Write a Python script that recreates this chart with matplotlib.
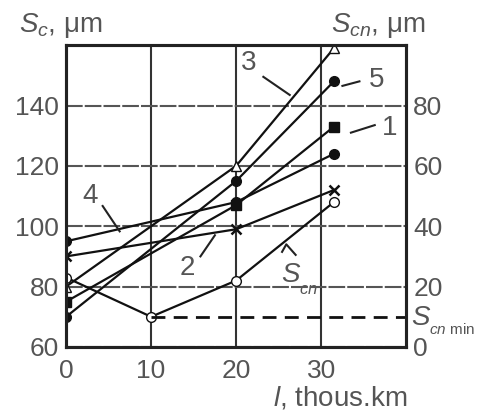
import matplotlib
matplotlib.use("Agg")
import matplotlib.pyplot as plt

plt.rcParams["font.family"] = "Liberation Sans"
plt.rcParams["mathtext.fontset"] = "custom"
plt.rcParams["mathtext.rm"] = "Liberation Sans"
plt.rcParams["mathtext.it"] = "Liberation Sans:italic"

txt_col = "#555555"

# mileage, thous. km
x_main = [0, 20, 31.5]
x_scn = [0, 10, 20, 31.5]

# S_c, um (left axis)
sc_1 = [75, 107, 133]
sc_2 = [90, 99, 112]
sc_3 = [80, 120, 159]
sc_4 = [95, 108, 124]
sc_5 = [70, 115, 148]

# S_cn, um (right axis)
scn = [23, 10, 22, 48]
scn_min = 10

fig = plt.figure(figsize=(4.79, 4.18), dpi=100)
ax = fig.add_axes([0.138, 0.170, 0.710, 0.722])
ax2 = ax.twinx()

ax.set_xlim(0, 40)
ax.set_ylim(60, 160)
ax2.set_ylim(0, 100)

ax.set_xticks([0, 10, 20, 30])
ax.set_yticks([60, 80, 100, 120, 140])
ax2.set_yticks([0, 20, 40, 60, 80])

for a in (ax, ax2):
	a.tick_params(length=0, labelsize=19, labelcolor=txt_col, pad=5)
	for s in a.spines.values():
		s.set_linewidth(2.2)
		s.set_color("#222222")
ax.tick_params(axis="x", pad=9)

ax.xaxis.grid(True, color="#333333", lw=1.5)
ax.yaxis.grid(True, color="#555555", lw=1.5, ls=(0, (8, 1)))
ax.set_axisbelow(True)

lkw = dict(color="#111111", lw=1.6)
ax.plot(x_main, sc_3, marker="^", ms=7, mfc="white", mec="#111111", **lkw)
ax.plot(x_main, sc_5, marker="o", ms=7, mfc="#111111", mec="#111111", **lkw)
ax.plot(x_main, sc_1, marker="s", ms=7, mfc="#111111", mec="#111111", **lkw)
ax.plot(x_main, sc_4, marker="o", ms=7, mfc="#111111", mec="#111111", **lkw)
ax.plot(x_main, sc_2, marker="x", ms=7, mew=1.8, **lkw)

ax2.plot(x_scn, scn, marker="o", ms=7, mfc="white", mec="#111111", **lkw)
ax2.plot([10, 40], [scn_min, scn_min], color="#111111", lw=2, ls=(0, (5, 3)))

# curve labels with leaders
def label(txt, xy_txt, xy0, xy1, axis=ax):
	axis.text(xy_txt[0], xy_txt[1], txt, fontsize=20, color=txt_col, ha="center", va="center")
	axis.plot([xy0[0], xy1[0]], [xy0[1], xy1[1]], color="#222222", lw=1.5)

label("3", (21.5, 154), (23.2, 149.5), (26.3, 143.5))
label("5", (36.5, 148.5), (34.5, 148), (32.5, 146.5))
label("1", (38.0, 132.5), (36.3, 133.5), (33.5, 131))
label("4", (2.8, 110), (4.3, 106.7), (6.3, 98.3))
label("2", (14.3, 86.3), (15.8, 90), (17.5, 97))

ax.text(26.5, 84, "$S$", fontsize=20, color=txt_col, ha="center", va="center")
ax.text(28.5, 79, "$cn$", fontsize=12, color=txt_col, ha="center", va="center")
ax.plot([25.4, 25.9, 27.0], [91.5, 94, 90.5], color="#222222", lw=1.5)

fig.text(0.040, 0.940, "$S_{c}$, μm", fontsize=20, color=txt_col, ha="left", va="center")
fig.text(0.690, 0.940, "$S_{cn}$, μm", fontsize=20, color=txt_col, ha="left", va="center")
fig.text(0.858, 0.240, "$S$", fontsize=20, color=txt_col, ha="left", va="center")
fig.text(0.895, 0.212, "$cn$ min", fontsize=11, color=txt_col, ha="left", va="center")
fig.text(0.710, 0.048, "$l$, thous.km", fontsize=20, color=txt_col, ha="center", va="center")

fig.savefig("out.png", dpi=100)
